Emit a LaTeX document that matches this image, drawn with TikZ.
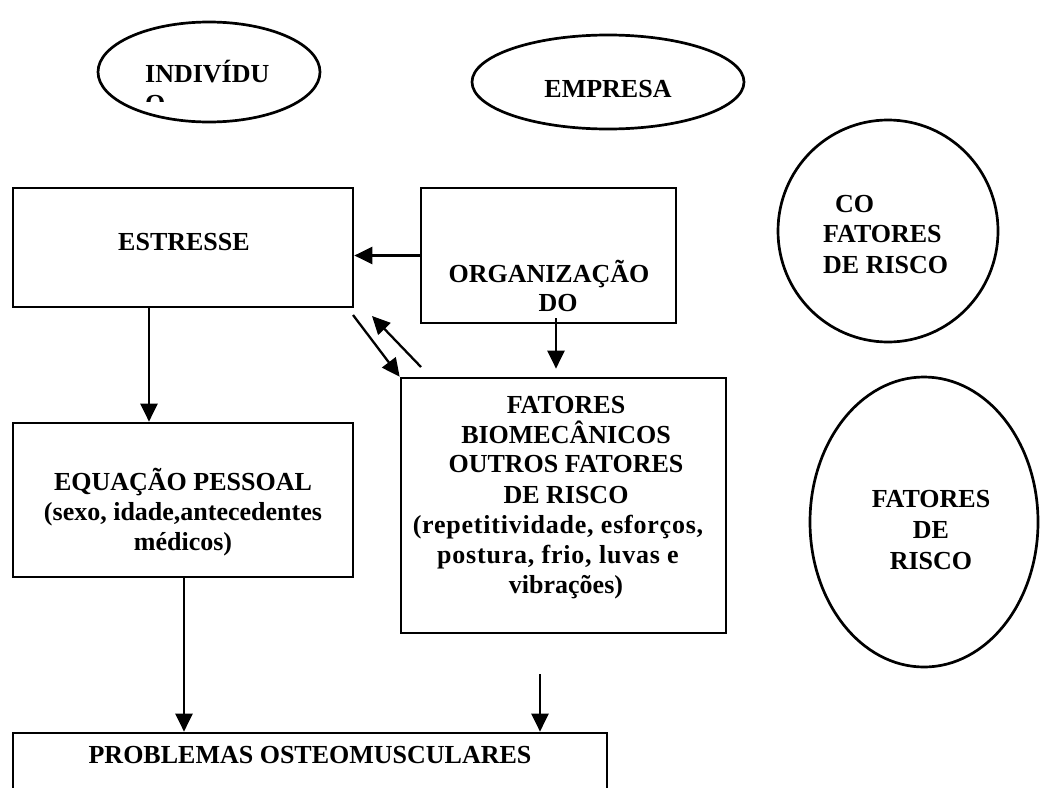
\documentclass[tikz,border=0pt]{standalone}
\usepackage{fontspec}
\setmainfont{Liberation Serif}
\usetikzlibrary{shapes.geometric,arrows.meta}
\begin{document}
\begin{tikzpicture}[x=1pt,y=-1pt,
  box/.style={draw,line width=2.7pt,inner sep=0pt},
  oval/.style={draw,ellipse,line width=2.7pt,inner sep=0pt},
  txt/.style={inner sep=0pt,anchor=base,font=\fontsize{26}{30}\selectfont\bfseries},
  txtl/.style={txt,anchor=base west},
  wide/.style={font=\fontsize{26}{30}\selectfont\bfseries\addfontfeature{LetterSpace=3}},
  arr/.style={line width=2.3pt,-{Triangle[length=18pt,width=17pt]}}]
\clip (0,0) rectangle (1040,787);
\fill[white] (0,0) rectangle (1040,787);
% ovals
\node[oval,minimum width=222pt,minimum height=100pt] (ind) at (209,72) {};
\node[oval,minimum width=272pt,minimum height=94pt] (emp) at (608,82) {};
\node[oval,minimum width=220pt,minimum height=222pt] (co) at (888,231) {};
\node[oval,minimum width=228pt,minimum height=290pt] (fr) at (924,522) {};
% boxes
\node[box,minimum width=340pt,minimum height=119pt] (est) at (183,247.5) {};
\node[box,minimum width=255pt,minimum height=135pt] (org) at (548.5,255.5) {};
\node[box,minimum width=325pt,minimum height=255pt] (fat) at (563.5,505.5) {};
\node[box,minimum width=340pt,minimum height=154pt] (eq) at (183,500) {};
\node[box,minimum width=594pt,minimum height=100pt] (prob) at (310,783) {};
% texts
\node[txtl] (indT) at (145,82) {INDIVÍDU};
\begin{scope}
\clip (100,0) rectangle (330,101);
\node[txtl] (indO) at (145,112) {O};
\end{scope}
\node[txt] (empT) at (608,97) {EMPRESA};
\node[txt] (estT) at (184,250) {ESTRESSE};
\node[txt] (orgT1) at (549,282) {ORGANIZAÇÃO};
\node[txt] (orgT2) at (558,311) {DO};
\node[txtl] (coT1) at (835,212) {CO};
\node[txtl] (coT2) at (823,242) {FATORES};
\node[txtl] (coT3) at (823,273) {DE RISCO};
\node[txt] (eqT1) at (183,490) {EQUAÇÃO PESSOAL};
\node[txt] (eqT2) at (183,520) {(sexo, idade,antecedentes};
\node[txt] (eqT3) at (183,550) {médicos)};
\node[txt] (fatT1) at (566,413) {FATORES};
\node[txt] (fatT2) at (566,443) {BIOMECÂNICOS};
\node[txt] (fatT3) at (566,472) {OUTROS FATORES};
\node[txt] (fatT4) at (566,503) {DE RISCO};
\node[txt,wide] (fatT5) at (558,533) {(repetitividade, esforços,};
\node[txt,wide] (fatT6) at (558,563) {postura, frio, luvas e};
\node[txt] (fatT7) at (566,593) {vibrações)};
\node[txt] (frT1) at (931,507) {FATORES};
\node[txt] (frT2) at (931,538) {DE};
\node[txt] (frT3) at (931,569) {RISCO};
\node[txt] (probT) at (310,763) {PROBLEMAS OSTEOMUSCULARES};
% connectors
\coordinate (estS) at (149,307);
\coordinate (orgS) at (556,318);
\coordinate (d1s) at (353,315);
\coordinate (d2s) at (421,367);
\coordinate (d2e) at (372,316);
\coordinate (eqS) at (184,577);
\coordinate (fl) at (540,674);
\draw[arr] (org.west) -- (org.west -| est.east);
\draw[arr] (estS) -- (estS |- eq.north);
\draw[arr,shorten >=8pt] (orgS) -- (orgS |- fat.north);
\draw[arr] (d1s) -- (fat.north west);
\draw[arr] (d2s) -- (d2e);
\draw[arr] (eqS) -- (eqS |- prob.north);
\draw[arr] (fl) -- (fl |- prob.north);
\end{tikzpicture}
\end{document}
